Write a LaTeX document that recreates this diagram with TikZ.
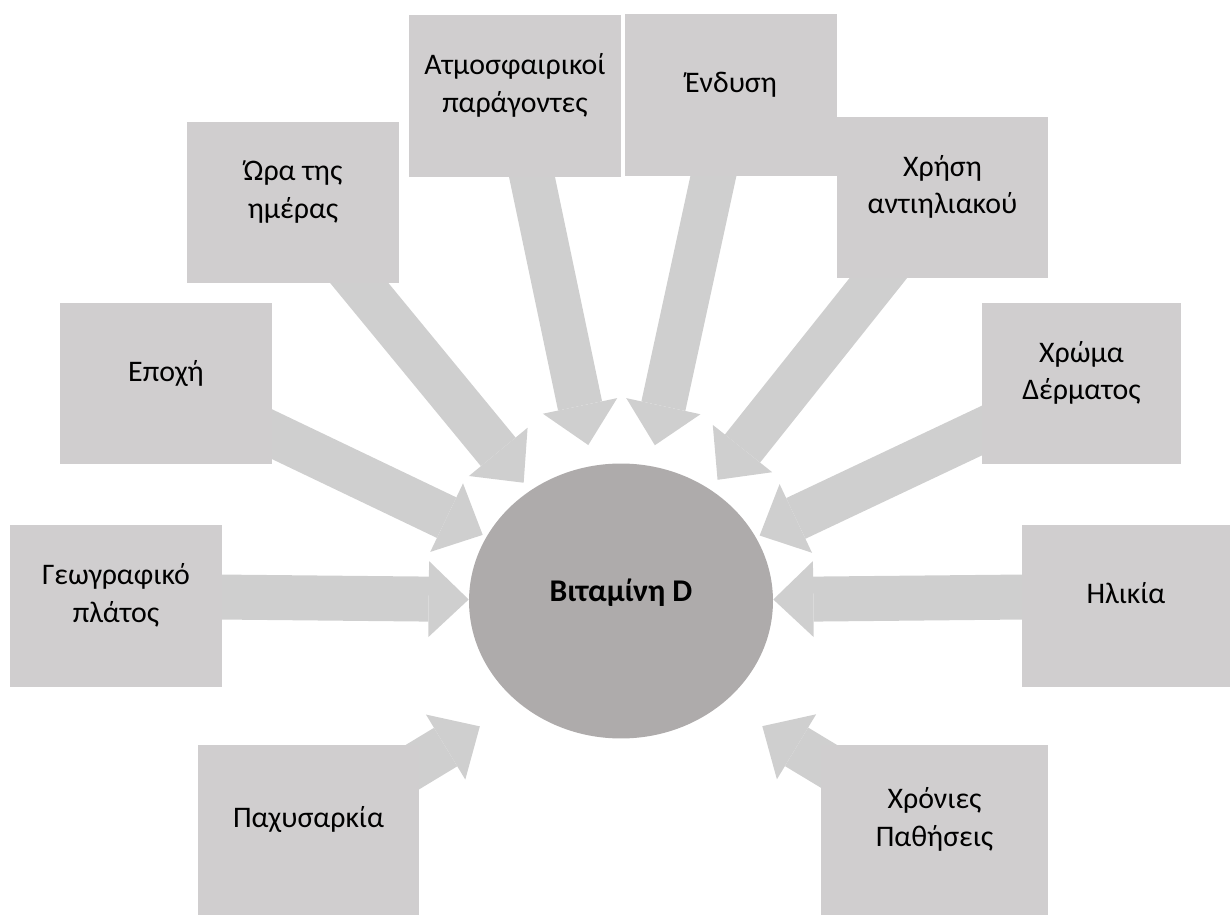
\documentclass[tikz,border=0pt]{standalone}
\usepackage{fontspec}
\setmainfont{Carlito}
\usetikzlibrary{arrows.meta,backgrounds,shapes.geometric}
\definecolor{boxgray}{HTML}{D0CECF}
\definecolor{arrowgray}{HTML}{CFCFCF}
\definecolor{coregray}{HTML}{AEABAB}
\begin{document}
\begin{tikzpicture}[
  x=0.02cm, y=-0.02cm,
  factor/.style={rectangle, fill=boxgray, minimum width=4.24cm, minimum height=3.24cm,
                 inner sep=0pt, align=center, text depth=0.52cm,
                 font=\fontsize{17}{21.5}\selectfont},
  core/.style={ellipse, fill=coregray, minimum width=6.08cm, minimum height=5.5cm,
               inner sep=0pt, text depth=0.45cm, font=\fontsize{18}{22}\selectfont\bfseries},
  flow/.style={arrowgray, line width=0.9cm,
               -{Triangle[length=0.8cm, width=1.52cm, line width=0pt]}}
]
  \useasboundingbox (0,0) rectangle (1230,915);

  \node[core]   (vitd) at (621, 601)   {Βιταμίνη D};

  \node[factor] (atm)  at (515, 96)    {Ατμοσφαιρικοί\\παράγοντες};
  \node[factor] (endy) at (731, 95)    {Ένδυση};
  \node[factor] (ora)  at (293, 202.5) {Ώρα της\\ημέρας};
  \node[factor] (sun)  at (942.5, 197.5) {Χρήση\\αντιηλιακού};
  \node[factor] (epo)  at (166, 383.5) {Εποχή};
  \node[factor, minimum width=3.98cm] (skin) at (1081.5, 383.5) {Χρώμα\\Δέρματος};
  \node[factor] (geo)  at (116, 606)   {Γεωγραφικό\\πλάτος};
  \node[factor, minimum width=4.16cm] (age) at (1126, 606) {Ηλικία};
  \node[factor, minimum width=4.42cm, minimum height=3.4cm] (pax) at (308.5, 830) {Παχυσαρκία};
  \node[factor, minimum width=4.54cm, minimum height=3.4cm] (chr) at (934.5, 830) {Χρόνιες\\Παθήσεις};

  \begin{scope}[on background layer]
    \draw[flow, shorten >=0.42cm] (atm.center)  -- (vitd);
    \draw[flow, shorten >=0.42cm] (endy.center) -- (vitd);
    \draw[flow, shorten >=0.2cm]  (ora.center)  -- (vitd);
    \draw[flow, shorten >=0.24cm] (sun.center)  -- (vitd);
    \draw[flow, shorten >=0.08cm] (epo.center)  -- (vitd);
    \draw[flow, shorten >=0.08cm] (skin.center) -- (vitd);
    \draw[flow] ([yshift=0.2cm]geo.center) -- (vitd);
    \draw[flow] ([yshift=0.2cm]age.center) -- (vitd);
    \draw[flow, shorten >=3.3cm]  (pax.center)  -- ([yshift=-0.8cm]vitd.center);
    \draw[flow, shorten >=3.3cm]  (chr.center)  -- ([yshift=-0.8cm]vitd.center);
  \end{scope}
\end{tikzpicture}
\end{document}
